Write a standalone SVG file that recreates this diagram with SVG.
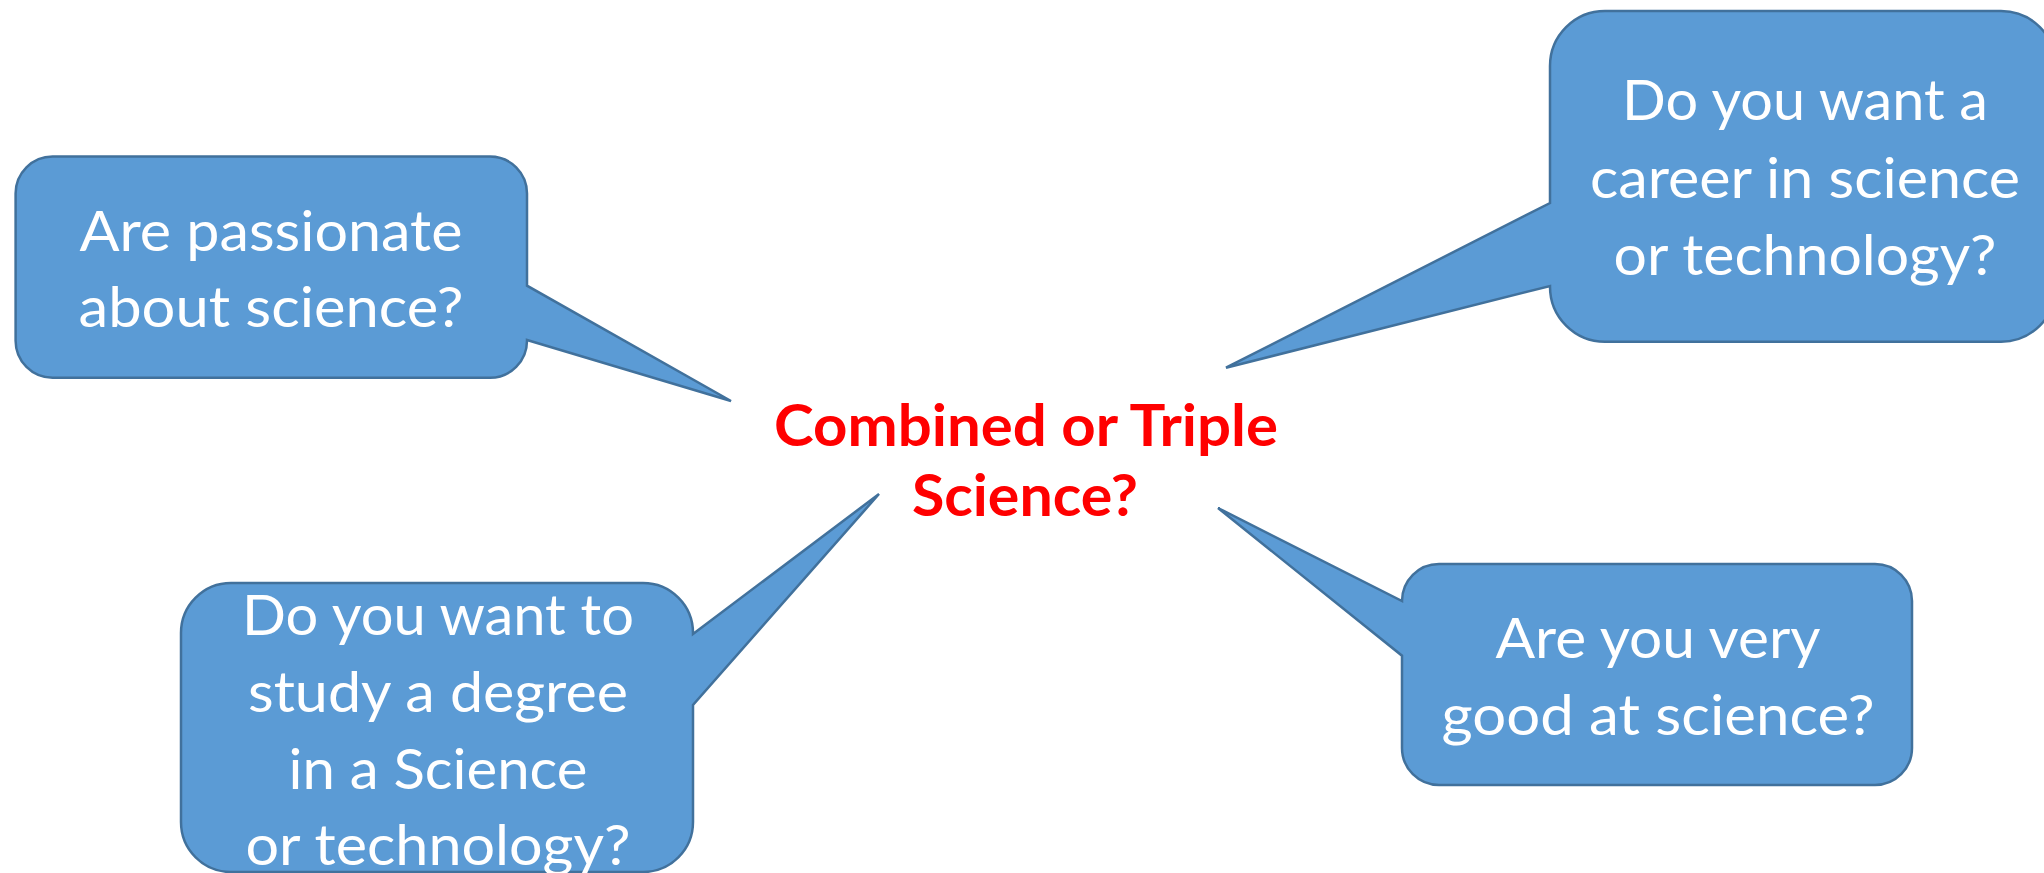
<svg xmlns="http://www.w3.org/2000/svg" width="2044" height="873" viewBox="0 0 2044 873">
<style>
.callout{fill:#5B9BD5;stroke:#41719C;stroke-width:2.5;stroke-linejoin:miter}
.q{font-family:Lato,"Open Sans",sans-serif;font-size:57px;fill:#FFFFFF;text-anchor:middle}
.title{font-family:Lato,"Open Sans",sans-serif;font-size:57px;font-weight:bold;fill:#FF0000;text-anchor:middle}
</style>
<rect width="2044" height="873" fill="#FFFFFF"/>
<g id="connectors"></g>
<g id="node-passionate">
<path class="callout" d="M52.6,156.5 H490 A37,37 0 0 1 527,193.5 V285.7 L731,401 L527,340 V340.7 A37,37 0 0 1 490,377.7 H52.6 A37,37 0 0 1 15.6,340.7 V193.5 A37,37 0 0 1 52.6,156.5 Z"/>
<text class="q" x="271" y="251" textLength="383" lengthAdjust="spacingAndGlyphs">Are passionate</text>
<text class="q" x="271" y="327" textLength="385" lengthAdjust="spacingAndGlyphs">about science?</text>
</g>
<g id="node-career">
<path class="callout" d="M1605,11 H2001 A55,55 0 0 1 2056,66 V286.7 A55,55 0 0 1 2001,341.7 H1605 A55,55 0 0 1 1550,286.7 L1550,286 L1226,367.7 L1550,203 V66 A55,55 0 0 1 1605,11 Z"/>
<text class="q" x="1805" y="120" textLength="366" lengthAdjust="spacingAndGlyphs">Do you want a</text>
<text class="q" x="1805" y="198" textLength="430" lengthAdjust="spacingAndGlyphs">career in science</text>
<text class="q" x="1805" y="275" textLength="383" lengthAdjust="spacingAndGlyphs">or technology?</text>
</g>
<g id="node-degree">
<path class="callout" d="M231,583 H643 A50,50 0 0 1 693,633 L693,634 L879,494 L693,705 V822 A50,50 0 0 1 643,872 H231 A50,50 0 0 1 181,822 V633 A50,50 0 0 1 231,583 Z"/>
<text class="q" x="438" y="635" textLength="392" lengthAdjust="spacingAndGlyphs">Do you want to</text>
<text class="q" x="438" y="712" textLength="380" lengthAdjust="spacingAndGlyphs">study a degree</text>
<text class="q" x="438" y="789" textLength="299" lengthAdjust="spacingAndGlyphs">in a Science</text>
<text class="q" x="438" y="865" textLength="385" lengthAdjust="spacingAndGlyphs">or technology?</text>
</g>
<g id="node-good">
<path class="callout" d="M1439,564 H1875 A37,37 0 0 1 1912,601 V748 A37,37 0 0 1 1875,785 H1439 A37,37 0 0 1 1402,748 V655.7 L1218,508 L1402,601 A37,37 0 0 1 1439,564 Z"/>
<text class="q" x="1658" y="658" textLength="325" lengthAdjust="spacingAndGlyphs">Are you very</text>
<text class="q" x="1658" y="735" textLength="433" lengthAdjust="spacingAndGlyphs">good at science?</text>
</g>
<g id="node-title">
<text class="title" x="1026" y="446" textLength="504" lengthAdjust="spacingAndGlyphs">Combined or Triple</text>
<text class="title" x="1025" y="516" textLength="226" lengthAdjust="spacingAndGlyphs">Science?</text>
</g>
</svg>
